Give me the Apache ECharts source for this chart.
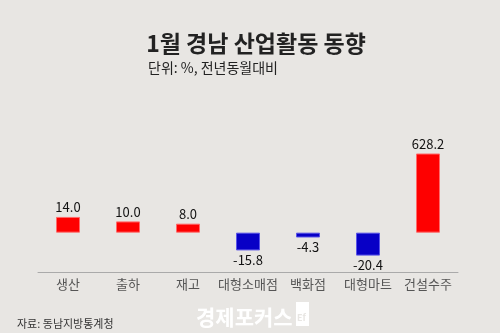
<!DOCTYPE html>
<html><head><meta charset="utf-8">
<script src="https://cdn.jsdelivr.net/npm/echarts@6/dist/echarts.min.js"></script>
<style>html,body{margin:0;padding:0;background:#e8e6e3}#c{width:500px;height:333px}</style>
</head><body><div id="c"></div>
<script>
const categories = ['생산','출하','재고','대형소매점','백화점','대형마트','건설수주'];
const values = [14.0, 10.0, 8.0, -15.8, -4.3, -20.4, 628.2];
const titleText = '1월 경남 산업활동 동향';
const subtitleText = '단위: %, 전년동월대비';
const sourceText = '자료: 동남지방통계청';

const font = '"Noto Sans CJK KR", "Noto Sans", sans-serif';
const dataItems = values.map(v => v >= 0
  ? {value: v, itemStyle: {color: '#fe0000', borderColor: '#ff6a6a'}, label: {position: 'top'}}
  : {value: v, itemStyle: {color: '#0800c6', borderColor: '#5a55e8'}, label: {position: 'bottom'}});

const chart = echarts.init(document.getElementById('c'), null, {renderer:'canvas'});
chart.setOption({
  backgroundColor: '#e8e6e3',
  animation: false,
  textStyle: {fontFamily: font},
  title: [
    {text: titleText, left: 251, top: 27, textAlign: 'center',
     textStyle: {fontSize: 23, fontWeight: 'bold', color: '#222', fontFamily: font}},
    {text: subtitleText, left: 143, top: 56,
     textStyle: {fontSize: 14, fontWeight: 'normal', color: '#222', fontFamily: font}},
    {text: sourceText, left: 12, top: 313,
     textStyle: {fontSize: 11, fontWeight: 'normal', color: '#333', fontFamily: font}},
    {text: '경제포커스', left: 191, top: 302,
     textStyle: {fontSize: 21, fontWeight: 'bold', color: '#ffffff', fontFamily: font}}
  ],
  graphic: [
    {type: 'rect', shape: {x: 296, y: 302, width: 13, height: 24}, style: {fill: '#ffffff'}},
    {type: 'text', x: 297, y: 313, style: {text: 'Ef', fontSize: 9, fontWeight: 'bold', fill: '#e8e6e3', fontFamily: font}}
  ],
  grid: {left: 38, right: 42, top: 154, bottom: 61, containLabel: false},
  xAxis: {
    type: 'category', data: categories,
    axisLine: {onZero: false, lineStyle: {color: '#aaaaaa', width: 1}},
    axisTick: {show: false},
    axisLabel: {interval: 0, color: '#555', fontSize: 13, margin: 6, fontFamily: font}
  },
  yAxis: {
    type: 'value', min: -35, max: 70, show: false, splitLine: {show: false}
  },
  series: [{
    type: 'bar', data: dataItems, barWidth: 24, clip: true,
    itemStyle: {borderWidth: 1},
    label: {
      show: true, distance: 3,
      color: '#111', fontSize: 13, fontFamily: font,
      formatter: p => p.value.toFixed(1)
    }
  }]
});
</script></body></html>
